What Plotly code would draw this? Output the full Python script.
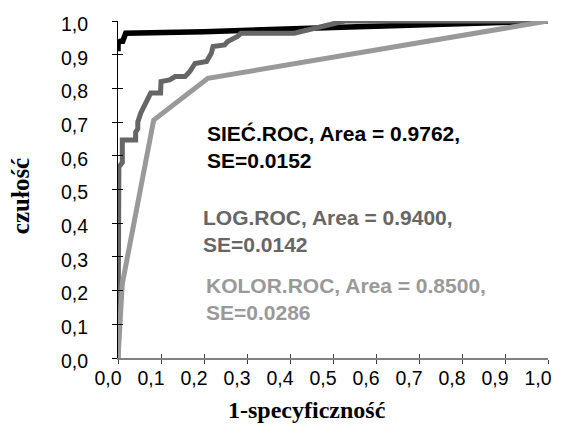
import plotly.graph_objects as go

# SIEĆ.ROC curve
siec_x = [0.0, 0.0, 0.006, 0.011, 0.018, 0.2, 0.5, 0.8, 1.0]
siec_y = [0.91, 0.935, 0.94, 0.94, 0.964, 0.968, 0.981, 0.992, 1.0]

# LOG.ROC curve
log_x = [0.0, 0.0, 0.002, 0.002, 0.01, 0.01, 0.041, 0.041, 0.046, 0.046, 0.053, 0.06, 0.069, 0.076,
         0.099, 0.1, 0.12, 0.133, 0.156, 0.167, 0.179, 0.206, 0.217, 0.221, 0.248, 0.255, 0.278,
         0.286, 0.41, 0.527, 1.0]
log_y = [0.0, 0.47, 0.49, 0.567, 0.58, 0.647, 0.647, 0.67, 0.68, 0.70, 0.727, 0.745, 0.766, 0.786,
         0.786, 0.82, 0.825, 0.835, 0.835, 0.85, 0.874, 0.88, 0.904, 0.924, 0.929, 0.939, 0.954,
         0.964, 0.964, 1.0, 1.0]

# KOLOR.ROC curve
kolor_x = [0.0, 0.01, 0.083, 0.209, 1.0]
kolor_y = [0.0, 0.22, 0.706, 0.83, 1.0]

tick_vals = [0.0, 0.1, 0.2, 0.3, 0.4, 0.5, 0.6, 0.7, 0.8, 0.9, 1.0]
tick_text = ["0,0", "0,1", "0,2", "0,3", "0,4", "0,5", "0,6", "0,7", "0,8", "0,9", "1,0"]

labels = [
    ("SIEĆ.ROC, Area = 0.9762,<br>SE=0.0152", "#000000", 0.202, 0.625),
    ("LOG.ROC, Area = 0.9400,<br>SE=0.0142", "#666666", 0.193, 0.377),
    ("KOLOR.ROC, Area = 0.8500,<br>SE=0.0286", "#999999", 0.199, 0.175),
]
x_title = "1-specyficzność"
y_title = "czułość"

fig = go.Figure()
fig.add_trace(go.Scatter(x=siec_x, y=siec_y, mode="lines",
                         line=dict(color="#000000", width=5.5), showlegend=False))
fig.add_trace(go.Scatter(x=log_x, y=log_y, mode="lines",
                         line=dict(color="#666666", width=5), showlegend=False))
fig.add_trace(go.Scatter(x=kolor_x, y=kolor_y, mode="lines",
                         line=dict(color="#999999", width=5), showlegend=False))

for txt, col, x, y in labels:
    fig.add_annotation(x=x, y=y, xref="x", yref="y", text=txt, showarrow=False,
                       xanchor="left", yanchor="middle", align="left",
                       font=dict(family="Liberation Sans, Arial", size=21, color=col,
                                 weight="bold"))

titlefont_x = dict(family="Liberation Serif, Times New Roman", size=24, color="#000000",
                   weight="bold")
titlefont_y = dict(family="Liberation Serif, Times New Roman", size=25, color="#000000",
                   weight="bold")
fig.add_annotation(x=0.44, y=-0.154, xref="paper", yref="paper", text=x_title,
                   showarrow=False, xanchor="center", yanchor="middle", font=titlefont_x)
fig.add_annotation(x=-0.225, y=0.481, xref="paper", yref="paper", text=y_title,
                   showarrow=False, xanchor="center", yanchor="middle", textangle=-90,
                   font=titlefont_y)

tickfont = dict(family="Liberation Sans, Arial", size=19.5, color="#000000")

fig.update_layout(
    width=564, height=425,
    margin=dict(l=118, r=12, t=21, b=67),
    plot_bgcolor="white", paper_bgcolor="white",
    xaxis=dict(range=[0, 1], tickvals=tick_vals, ticktext=tick_text, showgrid=False,
               zeroline=False, showline=True, linecolor="#808080", linewidth=1.5,
               ticks="outside", ticklen=4, tickcolor="#404040", tickwidth=1,
               tickfont=tickfont, ticklabelstandoff=-2, ticklabelshift=-10,
               ticklabeloverflow="allow"),
    yaxis=dict(range=[0, 1], tickvals=tick_vals, ticktext=tick_text, showgrid=False,
               zeroline=False, showline=True, linecolor="#000000", linewidth=1,
               ticks="outside", ticklen=5, tickcolor="#000000", tickwidth=1,
               tickfont=tickfont, ticklabelstandoff=20, ticklabelshift=3,
               ticklabeloverflow="allow"),
    xaxis2=dict(range=[0, 1], overlaying="x", tickvals=tick_vals, showticklabels=False,
                showgrid=False, zeroline=False, ticks="inside", ticklen=4,
                tickcolor="#404040", side="bottom"),
    yaxis2=dict(range=[0, 1], overlaying="y", tickvals=tick_vals, showticklabels=False,
                showgrid=False, zeroline=False, ticks="inside", ticklen=5,
                tickcolor="#000000", side="left"),
)
# invisible trace to activate overlay axes
fig.add_trace(go.Scatter(x=[0], y=[0], xaxis="x2", yaxis="y2", mode="markers",
                         marker=dict(opacity=0), showlegend=False, hoverinfo="skip"))

fig.write_html("out.html")
